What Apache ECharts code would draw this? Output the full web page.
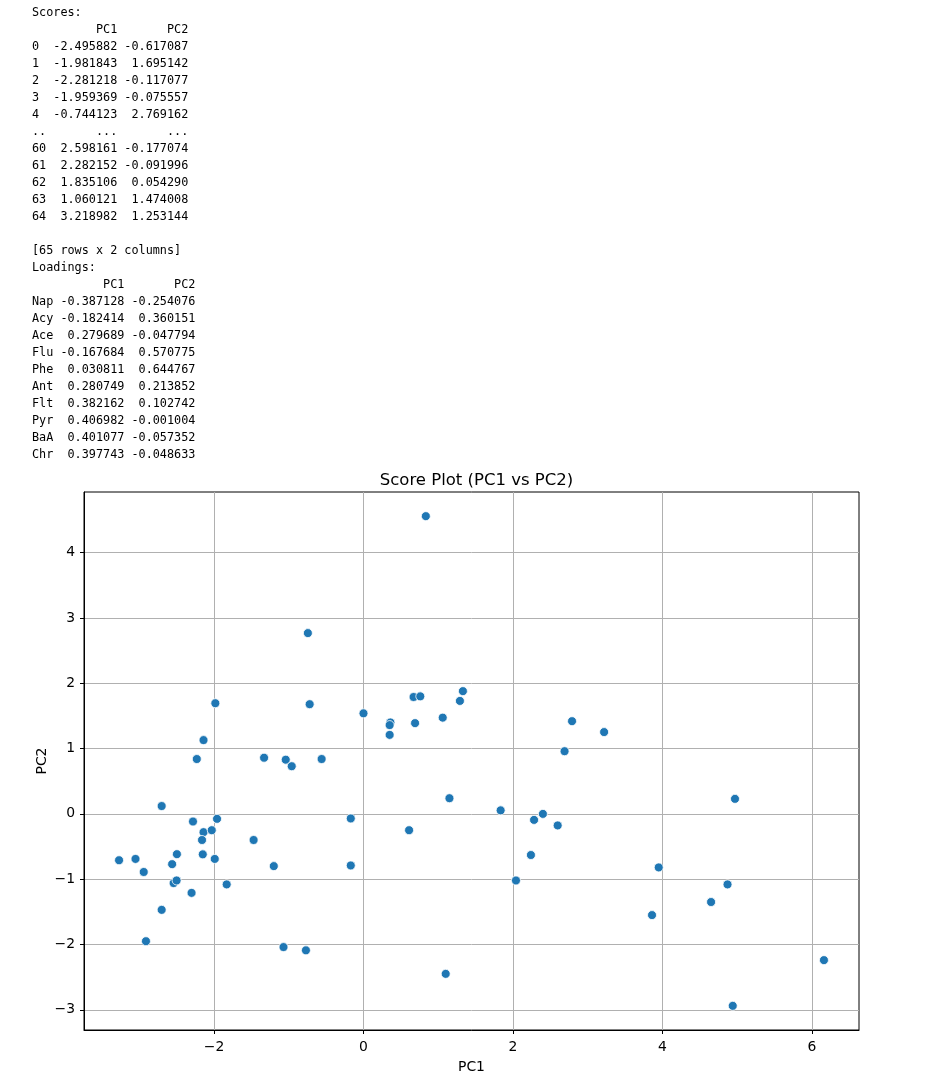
<!DOCTYPE html>
<html>
<head>
<meta charset="utf-8">
<script src="https://cdn.jsdelivr.net/npm/echarts@6/dist/echarts.min.js"></script>
<style>
  html, body { margin: 0; padding: 0; background: #fff; }
  #wrap { position: relative; width: 950px; height: 1082px; }
  #chart { position: absolute; left: 0; top: 0; width: 950px; height: 1082px; }
  #out { position: absolute; left: 32px; top: 4px; margin: 0; z-index: 2;
         font-family: "DejaVu Sans Mono", monospace; font-size: 11.8px; line-height: 17px; color: #000; }
</style>
</head>
<body>
<div id="wrap">
  <div id="chart"></div>
  <pre id="out"></pre>
</div>
<script>
// ---- printed output data ----
const scoreIdx = [0, 1, 2, 3, 4, 60, 61, 62, 63, 64];
const scorePC1 = [-2.495882, -1.981843, -2.281218, -1.959369, -0.744123, 2.598161, 2.282152, 1.835106, 1.060121, 3.218982];
const scorePC2 = [-0.617087, 1.695142, -0.117077, -0.075557, 2.769162, -0.177074, -0.091996, 0.054290, 1.474008, 1.253144];
const nRows = 65;
const loadNames = ["Nap", "Acy", "Ace", "Flu", "Phe", "Ant", "Flt", "Pyr", "BaA", "Chr"];
const loadPC1 = [-0.387128, -0.182414, 0.279689, -0.167684, 0.030811, 0.280749, 0.382162, 0.406982, 0.401077, 0.397743];
const loadPC2 = [-0.254076, 0.360151, -0.047794, 0.570775, 0.644767, 0.213852, 0.102742, -0.001004, -0.057352, -0.048633];

// ---- scatter data ----
const pc1 = [0.834, -0.744, -1.982, -2.14, -2.23, -1.33, -1.04, -0.96, -0.56, -0.72,
  0.0, 0.36, 0.35, 0.35, 0.67, 0.76, 0.69, 1.060, 1.29, 1.33,
  2.79, 3.219, 2.69, -2.70, -2.281, -1.959, -2.14, -2.03, -2.16, -2.496,
  -2.15, -1.99, -3.27, -3.05, -2.94, -2.56, -2.54, -2.50, -2.30, -1.83,
  -2.70, -2.91, -1.47, -1.20, -0.17, -0.17, -1.07, -0.77, 0.61, 1.15,
  1.10, 1.835, 2.282, 2.40, 2.598, 2.24, 2.04, 3.95, 3.86, 4.65,
  4.87, 4.97, 6.16, 4.94];
const pc2 = [4.56, 2.769, 1.695, 1.13, 0.84, 0.86, 0.83, 0.73, 0.84, 1.68,
  1.54, 1.40, 1.36, 1.21, 1.79, 1.80, 1.39, 1.474, 1.73, 1.88,
  1.42, 1.253, 0.96, 0.12, -0.117, -0.076, -0.28, -0.25, -0.40, -0.617,
  -0.62, -0.69, -0.71, -0.69, -0.89, -0.77, -1.06, -1.02, -1.21, -1.08,
  -1.47, -1.95, -0.40, -0.80, -0.07, -0.79, -2.04, -2.09, -0.25, 0.24,
  -2.45, 0.054, -0.092, 0.00, -0.177, -0.63, -1.02, -0.82, -1.55, -1.35,
  -1.08, 0.23, -2.24, -2.94];
const xTicks = [-2, 0, 2, 4, 6];
const yTicks = [-3, -2, -1, 0, 1, 2, 3, 4];

// ---- build printed text ----
function pad(s, w) { s = String(s); while (s.length < w) s = ' ' + s; return s; }
function padR(s, w) { s = String(s); while (s.length < w) s = s + ' '; return s; }
const lines = [];
lines.push('Scores:');
lines.push(padR('', 2) + pad('PC1', 10) + pad('PC2', 10));
scoreIdx.forEach((ix, i) => {
  if (i === 5) lines.push(padR('..', 2) + pad('...', 10) + pad('...', 10));
  lines.push(padR(ix, 2) + pad(scorePC1[i].toFixed(6), 10) + pad(scorePC2[i].toFixed(6), 10));
});
lines.push('');
lines.push('[' + nRows + ' rows x 2 columns]');
lines.push('Loadings:');
lines.push(padR('', 3) + pad('PC1', 10) + pad('PC2', 10));
loadNames.forEach((n, i) => {
  lines.push(padR(n, 3) + pad(loadPC1[i].toFixed(6), 10) + pad(loadPC2[i].toFixed(6), 10));
});
document.getElementById('out').textContent = lines.join('\n');

// ---- chart ----
const pts = pc1.map((x, i) => [x, pc2[i]]);
const minus = v => String(v).replace('-', '\u2212');
const font = 'DejaVu Sans';
const chart = echarts.init(document.getElementById('chart'), null, { renderer: 'canvas' });
chart.setOption({
  animation: false,
  backgroundColor: '#fff',
  title: {
    text: 'Score Plot (PC1 vs PC2)',
    left: 471.5, top: 467, textAlign: 'center',
    textStyle: { fontFamily: font, fontSize: 16.5, fontWeight: 'normal', color: '#000' }
  },
  grid: { left: 84, top: 492, width: 775, height: 538, show: true, borderColor: '#000', borderWidth: 1, backgroundColor: 'transparent', containLabel: false },
  xAxis: {
    type: 'value', min: -3.739, max: 6.629,
    name: 'PC1', nameLocation: 'middle', nameGap: 30, nameMoveOverlap: false,
    nameTextStyle: { fontFamily: font, fontSize: 13.9, color: '#000' },
    axisLine: { show: true, onZero: false, lineStyle: { color: '#000', width: 1 } },
    axisTick: { show: true, length: 4, customValues: xTicks, lineStyle: { color: '#000' } },
    axisLabel: { customValues: xTicks, margin: 10, fontFamily: font, fontSize: 13.9, color: '#000', formatter: minus },
    splitLine: { show: true, lineStyle: { color: '#b0b0b0', width: 1 } }
  },
  yAxis: {
    type: 'value', min: -3.31, max: 4.93,
    name: 'PC2', nameLocation: 'middle', nameGap: 35, nameRotate: 90, nameMoveOverlap: false,
    nameTextStyle: { fontFamily: font, fontSize: 13.9, color: '#000' },
    axisLine: { show: true, onZero: false, lineStyle: { color: '#000', width: 1 } },
    axisTick: { show: true, length: 4, customValues: yTicks, lineStyle: { color: '#000' } },
    axisLabel: { customValues: yTicks, margin: 9, fontFamily: font, fontSize: 13.9, color: '#000', formatter: minus },
    splitLine: { show: true, lineStyle: { color: '#b0b0b0', width: 1 } }
  },
  series: [{
    type: 'scatter',
    data: pts,
    symbol: 'circle',
    symbolSize: 9,
    itemStyle: { color: '#1f77b4', borderColor: '#fff', borderWidth: 0.8, opacity: 1 }
  }]
});
</script>
</body>
</html>
